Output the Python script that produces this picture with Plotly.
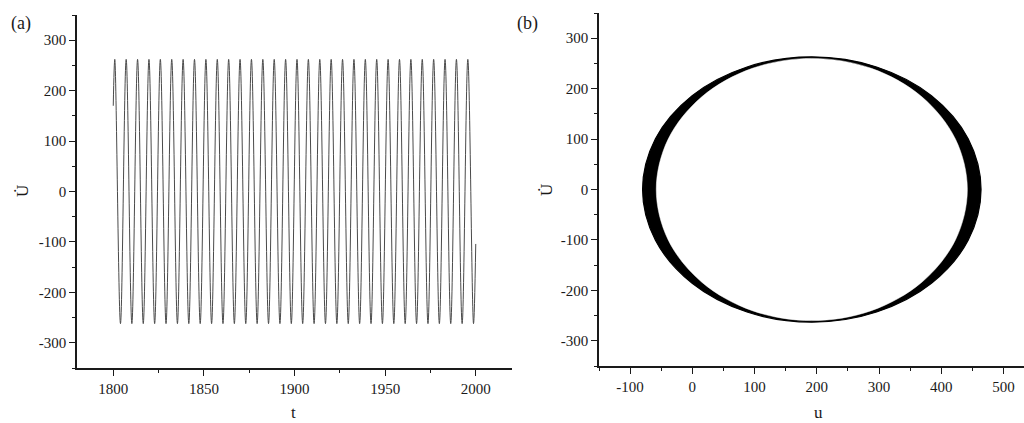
import plotly.graph_objects as go

W, H = 1024, 423

# ---------------- Panel (a): time series of u-dot ----------------
# start / end samples and estimated extrema (t, value)
t_start, v_start = 1800.0, 170.0
t_end, v_end = 2000.0, -104.0
peak_t = [1800.85, 1807.13, 1813.42, 1819.70, 1825.98, 1832.27, 1838.55, 1844.83,
          1851.12, 1857.40, 1863.68, 1869.96, 1876.25, 1882.53, 1888.81, 1895.10,
          1901.38, 1907.66, 1913.95, 1920.23, 1926.51, 1932.80, 1939.08, 1945.36,
          1951.65, 1957.93, 1964.21, 1970.49, 1976.78, 1983.06, 1989.34, 1995.63]
trough_t = [1803.99, 1810.27, 1816.56, 1822.84, 1829.12, 1835.41, 1841.69, 1847.97,
            1854.26, 1860.54, 1866.82, 1873.11, 1879.39, 1885.67, 1891.96, 1898.24,
            1904.52, 1910.81, 1917.09, 1923.37, 1929.66, 1935.94, 1942.22, 1948.51,
            1954.79, 1961.07, 1967.35, 1973.64, 1979.92, 1986.20, 1992.49, 1998.77]
peak_v = 262.0
trough_v = -262.0

# ---------------- Panel (b): phase portrait band (u, u-dot) ----------------
outer_u = [464.0, 443.3, 384.3, 296.1, 192.0, 87.9, -0.3, -59.3,
           -80.0, -59.3, -0.3, 87.9, 192.0, 296.1, 384.3, 443.3, 464.0]
outer_v = [0.0, 100.6, 186.0, 243.0, 263.0, 243.0, 186.0, 100.6,
           0.0, -100.6, -186.0, -243.0, -263.0, -243.0, -186.0, -100.6, 0.0]
inner_u = [442.0, 423.0, 368.8, 287.7, 192.0, 96.3, 15.2, -39.0,
           -58.0, -39.0, 15.2, 96.3, 192.0, 287.7, 368.8, 423.0, 442.0]
inner_v = [0.0, 99.5, 183.8, 240.2, 260.0, 240.2, 183.8, 99.5,
           0.0, -99.5, -183.8, -240.2, -260.0, -240.2, -183.8, -99.5, 0.0]

# tick labels
y_ticks = [-300, -200, -100, 0, 100, 200, 300]
y_ticktext = ["-300", "-200", "-100", "0", "100", "200", "300"]
xa_ticks = [1800, 1850, 1900, 1950, 2000]
xb_ticks = [-100, 0, 100, 200, 300, 400, 500]
xb_ticktext = ["-100", "0", "100", "200", "300", "400", "500"]

# build series for panel (a)
ts = [t_start]
vs = [v_start]
for p, q in zip(peak_t, trough_t):
    ts += [p, q]
    vs += [peak_v, trough_v]
ts.append(t_end)
vs.append(v_end)

FONT = "Liberation Serif"
INK = "#1a1a1a"

fig = go.Figure()
fig.add_trace(go.Scatter(x=ts, y=vs, mode="lines",
                         line=dict(color="#4a4a4a", width=1, shape="spline"),
                         xaxis="x", yaxis="y", showlegend=False, hoverinfo="skip"))
fig.add_trace(go.Scatter(x=outer_u, y=outer_v, mode="lines", fill="toself",
                         fillcolor="black", line=dict(color="black", width=1.2, shape="spline"),
                         xaxis="x2", yaxis="y2", showlegend=False, hoverinfo="skip"))
fig.add_trace(go.Scatter(x=inner_u, y=inner_v, mode="lines", fill="toself",
                         fillcolor="white", line=dict(color="white", width=0.5, shape="spline"),
                         xaxis="x2", yaxis="y2", showlegend=False, hoverinfo="skip"))

common = dict(showgrid=False, zeroline=False, showline=True, linecolor=INK, linewidth=1.6,
              ticks="outside", ticklen=6, tickwidth=1.4, tickcolor=INK,
              tickfont=dict(family=FONT, size=15, color=INK), mirror=False)
minor_common = dict(ticks="outside", ticklen=3, tickwidth=1.4, tickcolor=INK, showgrid=False)

def px_x(p):
    return p / W

def px_y(p):
    return 1 - p / H

fig.update_layout(
    width=W, height=H,
    margin=dict(l=0, r=0, t=0, b=0),
    paper_bgcolor="white", plot_bgcolor="white",
    xaxis=dict(domain=[px_x(77), px_x(512)], range=[1780, 2020], anchor="y",
               tickmode="array", tickvals=xa_ticks,
               minor=dict(tickmode="linear", tick0=1800, dtick=25, **minor_common), **common),
    yaxis=dict(domain=[px_y(368), px_y(15)], range=[-350, 350], anchor="x",
               tickmode="array", tickvals=y_ticks, ticktext=y_ticktext,
               minor=dict(tickmode="linear", tick0=0, dtick=50, **minor_common), **common),
    xaxis2=dict(domain=[px_x(599), 1.0], range=[-150, 533], anchor="y2",
                tickmode="array", tickvals=xb_ticks, ticktext=xb_ticktext,
                minor=dict(tickmode="linear", tick0=0, dtick=50, **minor_common), **common),
    yaxis2=dict(domain=[px_y(366), px_y(13)], range=[-350, 350], anchor="x2",
                tickmode="array", tickvals=y_ticks, ticktext=y_ticktext,
                minor=dict(tickmode="linear", tick0=0, dtick=50, **minor_common), **common),
)

ann_font = dict(family=FONT, size=18, color=INK)
title_font = dict(family=FONT, size=17, color=INK)
annots = [
    dict(text="(a)", x=px_x(21), y=px_y(24), font=ann_font),
    dict(text="(b)", x=px_x(527), y=px_y(24), font=ann_font),
    dict(text="t", x=px_x(293), y=px_y(412), font=title_font),
    dict(text="u", x=px_x(818), y=px_y(412), font=title_font),
    dict(text="U\u0307", x=px_x(22), y=px_y(191), font=title_font, textangle=-90),
    dict(text="U\u0307", x=px_x(546), y=px_y(190), font=title_font, textangle=-90),
]
for a in annots:
    fig.add_annotation(xref="paper", yref="paper", showarrow=False,
                       xanchor="center", yanchor="middle", **a)

fig.write_html("out.html",
               config={"displayModeBar": False},
               post_script="document.body.style.margin='0';document.body.style.padding='0';"
                           "document.documentElement.style.overflow='hidden';")
